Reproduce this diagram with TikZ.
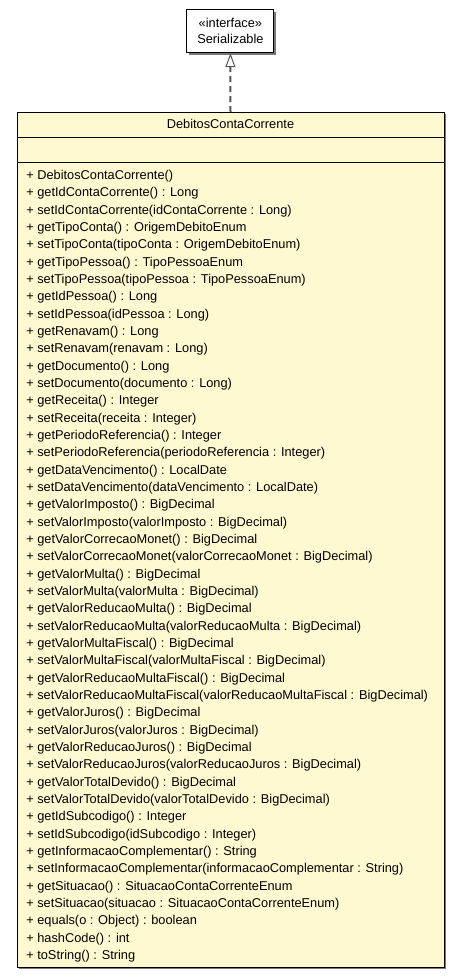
\documentclass[tikz,border=0pt]{standalone}
\usepackage{fontspec}
\setmainfont{Liberation Sans}
\usetikzlibrary{arrows.meta}

\definecolor{classfill}{RGB}{255,249,209}
\definecolor{shadowgray}{RGB}{120,120,120}
\definecolor{edgegray}{RGB}{85,85,85}

\tikzset{
  umltext/.style={font=\fontsize{9.6}{12}\selectfont, inner sep=0pt},
  member/.style={umltext, anchor=base west},
  classbox/.style={draw=black, line width=0.75pt, fill=classfill, inner sep=0pt},
  ifacebox/.style={draw=black, line width=0.75pt, fill=white, align=center, umltext},
  realizes/.style={draw=edgegray, line width=1.5pt, dash pattern=on 4.5pt off 3pt,
    -{Triangle[open, length=10.5pt, width=7.5pt, line width=0.75pt]}}
}

\begin{document}
\begin{tikzpicture}[x=0.75pt, y=-0.75pt]
\useasboundingbox (0,0) rectangle (460,979);

% interface
\fill[shadowgray] (189,12) rectangle (276,55);
\node[ifacebox, minimum width=65.25pt, minimum height=32pt] (iface) at (230.4,31.3)
  {«interface»\\Serializable};

% class
\fill[shadowgray] (19,114) rectangle (446,969);
\node[classbox, minimum width=320.25pt, minimum height=641pt, anchor=north] (cls) at (230.5,112) {};
\node[umltext, anchor=base] (title) at (230.5,128.5) {DebitosContaCorrente};
\draw[line width=0.75pt] (17,137) -- (444,137);
\draw[line width=0.75pt] (17,162) -- (444,162);

\foreach \m [count=\i] in {
  DebitosContaCorrente(),
  getIdContaCorrente() : Long,
  setIdContaCorrente(idContaCorrente : Long),
  getTipoConta() : OrigemDebitoEnum,
  setTipoConta(tipoConta : OrigemDebitoEnum),
  getTipoPessoa() : TipoPessoaEnum,
  setTipoPessoa(tipoPessoa : TipoPessoaEnum),
  getIdPessoa() : Long,
  setIdPessoa(idPessoa : Long),
  getRenavam() : Long,
  setRenavam(renavam : Long),
  getDocumento() : Long,
  setDocumento(documento : Long),
  getReceita() : Integer,
  setReceita(receita : Integer),
  getPeriodoReferencia() : Integer,
  setPeriodoReferencia(periodoReferencia : Integer),
  getDataVencimento() : LocalDate,
  setDataVencimento(dataVencimento : LocalDate),
  getValorImposto() : BigDecimal,
  setValorImposto(valorImposto : BigDecimal),
  getValorCorrecaoMonet() : BigDecimal,
  setValorCorrecaoMonet(valorCorrecaoMonet : BigDecimal),
  getValorMulta() : BigDecimal,
  setValorMulta(valorMulta : BigDecimal),
  getValorReducaoMulta() : BigDecimal,
  setValorReducaoMulta(valorReducaoMulta : BigDecimal),
  getValorMultaFiscal() : BigDecimal,
  setValorMultaFiscal(valorMultaFiscal : BigDecimal),
  getValorReducaoMultaFiscal() : BigDecimal,
  setValorReducaoMultaFiscal(valorReducaoMultaFiscal : BigDecimal),
  getValorJuros() : BigDecimal,
  setValorJuros(valorJuros : BigDecimal),
  getValorReducaoJuros() : BigDecimal,
  setValorReducaoJuros(valorReducaoJuros : BigDecimal),
  getValorTotalDevido() : BigDecimal,
  setValorTotalDevido(valorTotalDevido : BigDecimal),
  getIdSubcodigo() : Integer,
  setIdSubcodigo(idSubcodigo : Integer),
  getInformacaoComplementar() : String,
  setInformacaoComplementar(informacaoComplementar : String),
  getSituacao() : SituacaoContaCorrenteEnum,
  setSituacao(situacao : SituacaoContaCorrenteEnum),
  equals(o : Object) : boolean,
  hashCode() : int,
  toString() : String}
  \node[member] (m\i) at (26,{179.5+17.33*(\i-1)}) {+ \m};

% realization
\draw[realizes] (cls.north) -- (iface.south);
\end{tikzpicture}
\end{document}
